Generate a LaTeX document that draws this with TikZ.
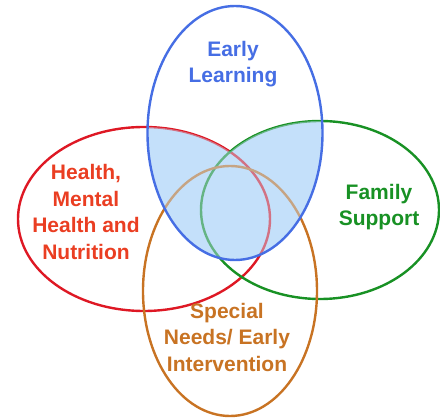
\documentclass[tikz,border=0pt]{standalone}
\usepackage{fontspec}
\setmainfont{Liberation Sans}
\definecolor{earlyblue}{RGB}{70,110,228}
\definecolor{healthred}{RGB}{222,24,36}
\definecolor{healthtext}{RGB}{234,62,34}
\definecolor{familygreen}{RGB}{24,145,36}
\definecolor{needsbrown}{RGB}{200,115,35}
\definecolor{overlapblue}{RGB}{196,224,250}
\begin{document}
\begin{tikzpicture}[x=1pt,y=-1pt,
  ring/.style={draw=#1,line width=2.4pt},
  tag/.style={text=#1,font=\bfseries\fontsize{21}{26.5}\selectfont,align=center,inner sep=0pt}
]
  \useasboundingbox (0,0) rectangle (440,419);

  % shaded part of the blue ring, under the rings
  \begin{scope}
    \clip (235,133) ellipse [x radius=87.5pt, y radius=127pt];
    \fill[overlapblue] (144,219) ellipse [x radius=126pt, y radius=92pt]
                       (320,210) ellipse [x radius=119pt, y radius=89pt];
  \end{scope}

  \draw[ring=healthred]   (144,219) ellipse [x radius=126pt, y radius=92pt];
  \draw[ring=familygreen] (320,210) ellipse [x radius=119pt, y radius=89pt];
  \draw[ring=needsbrown]  (230,291) ellipse [x radius=87pt, y radius=125pt];

  % and a thin veil over the rings inside it
  \begin{scope}
    \clip (235,133) ellipse [x radius=87.5pt, y radius=127pt];
    \fill[overlapblue,opacity=.45] (144,219) ellipse [x radius=126pt, y radius=92pt]
                                   (320,210) ellipse [x radius=119pt, y radius=89pt];
  \end{scope}
  \draw[ring=earlyblue] (235,133) ellipse [x radius=87.5pt, y radius=127pt];

  \node[tag=earlyblue]   (early)  at (233,64)  {Early\\Learning};
  \node[tag=healthtext]  (health) at (86,212)  {Health,\\Mental\\Health and\\Nutrition};
  \node[tag=familygreen] (family) at (379,207) {Family\\Support};
  \node[tag=needsbrown]  (needs)  at (227,337) {Special\\Needs/ Early\\Intervention};
\end{tikzpicture}
\end{document}
